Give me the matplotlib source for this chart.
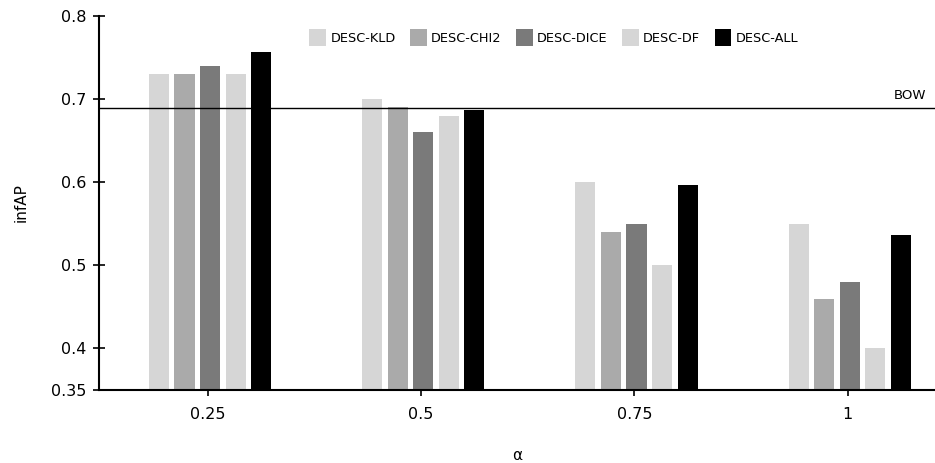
import matplotlib
matplotlib.use("Agg")
import matplotlib.pyplot as plt
import numpy as np

plt.rcParams['font.family'] = ['DejaVu Sans']

alphas = ["0.25", "0.5", "0.75", "1"]
series_names = ["DESC-KLD", "DESC-CHI2", "DESC-DICE", "DESC-DF", "DESC-ALL"]
kld = [0.73, 0.70, 0.60, 0.55]
chi2 = [0.73, 0.69, 0.54, 0.46]
dice = [0.74, 0.66, 0.55, 0.48]
df = [0.73, 0.68, 0.50, 0.40]
allv = [0.757, 0.687, 0.597, 0.537]
bow = 0.689
colors = ["#d6d6d6", "#aaaaaa", "#7a7a7a", "#d6d6d6", "#000000"]

fig = plt.figure(figsize=(9.35, 4.63), dpi=100)
ax = fig.add_axes([99/935, 1-390/463, 1-99/935, (390-16)/463])

x = np.arange(len(alphas))
pitch = 0.12
width = 0.094
for k, (name, vals, c) in enumerate(zip(series_names, [kld, chi2, dice, df, allv], colors)):
    ax.bar(x + (k-2)*pitch + 0.01, np.array(vals) - 0.35, width=width, bottom=0.35,
           color=c, label=name, zorder=2)

ax.axhline(bow, color='black', lw=1.0, zorder=3)
ax.text(3.37, bow + 0.008, "BOW", ha='right', va='bottom', fontsize=9.5)

ax.set_xlim(-0.511, 3.41)
ax.set_ylim(0.35, 0.8)
ax.set_xticks(x)
ax.set_xticklabels(alphas, fontsize=11.5)
ax.set_yticks([0.35, 0.4, 0.5, 0.6, 0.7, 0.8])
ax.set_yticklabels(["0.35", "0.4", "0.5", "0.6", "0.7", "0.8"], fontsize=11.5)
ax.tick_params(axis='both', direction='inout', length=8, width=1.2)
ax.tick_params(axis='x', pad=8)
ax.tick_params(axis='y', pad=5)
for s in ['top', 'right']:
    ax.spines[s].set_visible(False)
ax.spines['left'].set_linewidth(1.5)
ax.spines['bottom'].set_linewidth(1.5)

ax.set_ylabel("infAP", fontsize=11, labelpad=16)
ax.set_xlabel("α", fontsize=11, labelpad=19)

leg = fig.legend(*ax.get_legend_handles_labels(), loc='upper left',
                 bbox_to_anchor=(309/935, 1-29/463), bbox_transform=fig.transFigure,
                 ncol=5, frameon=False, borderpad=0, borderaxespad=0,
                 fontsize=9.3, handlelength=1.3, handleheight=1.65, columnspacing=1.1,
                 handletextpad=0.35)

fig.savefig("out.png", dpi=100)
